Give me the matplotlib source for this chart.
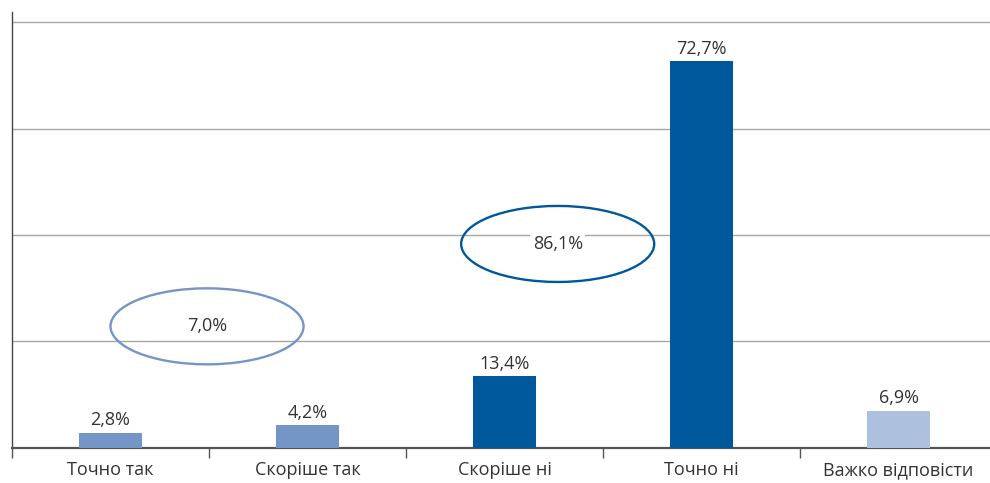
import matplotlib
matplotlib.use("Agg")
import matplotlib.pyplot as plt
from matplotlib.patches import Ellipse

categories = ["Точно так", "Скоріше так", "Скоріше ні", "Точно ні", "Важко відповісти"]
values = [2.8, 4.2, 13.4, 72.7, 6.9]
value_labels = ["2,8%", "4,2%", "13,4%", "72,7%", "6,9%"]
colors = ["#7496c6", "#7496c6", "#00589c", "#00589c", "#adc0de"]
group_labels = ["7,0%", "86,1%"]
group_centers = [(0.49, 22.8), (2.27, 38.3)]
group_colors = ["#7496c6", "#00589c"]

plt.rcParams['font.family'] = ['Open Sans', 'DejaVu Sans']

fig = plt.figure(figsize=(9.9, 4.83), dpi=100)
ax = fig.add_axes([12/990, 1 - 447.5/483, 985/990, (447.5 - 11.7)/483])

x = list(range(len(categories)))
ax.bar(x, values, width=0.315, color=colors, zorder=3)
for xi, v, lab in zip(x, values, value_labels):
    ax.annotate(lab, (xi, v), xytext=(0, 2.5), textcoords="offset points",
                ha="center", va="bottom", fontsize=13, color="#333333", zorder=4)

ax.set_xlim(-0.5, 4.5)
ax.set_ylim(0, 82)
ax.set_yticks([0, 20, 40, 60, 80])
ax.set_yticklabels([])
ax.tick_params(axis='y', length=0)
ax.grid(axis='y', color="#a6a6a6", linewidth=1, zorder=0)

ax.set_xticks(x)
ax.set_xticklabels(categories, fontsize=13, color="#333333")
ax.tick_params(axis='x', which='major', length=0, pad=10)
ax.set_xticks([i - 0.5 for i in range(len(categories) + 1)], minor=True)
ax.tick_params(axis='x', which='minor', length=7, width=1, color="#555555", direction='out')

for s in ["top", "right"]:
    ax.spines[s].set_visible(False)
ax.spines["left"].set_color("#444444")
ax.spines["left"].set_linewidth(1)
ax.spines["bottom"].set_color("#555555")
ax.spines["bottom"].set_linewidth(1.6)

for (cx, cy), lab, col, boxed in zip(group_centers, group_labels, group_colors, [False, True]):
    e = Ellipse((cx, cy), width=0.98, height=14.3, fill=False, edgecolor=col,
                linewidth=1.7, zorder=5)
    ax.add_patch(e)
    kw = {}
    if boxed:
        kw["bbox"] = dict(boxstyle="square,pad=0.15", facecolor="white", edgecolor="none")
    ax.text(cx, cy, lab, ha="center", va="center", fontsize=13, color="#333333", zorder=6, **kw)

fig.savefig("out.png", dpi=100)
